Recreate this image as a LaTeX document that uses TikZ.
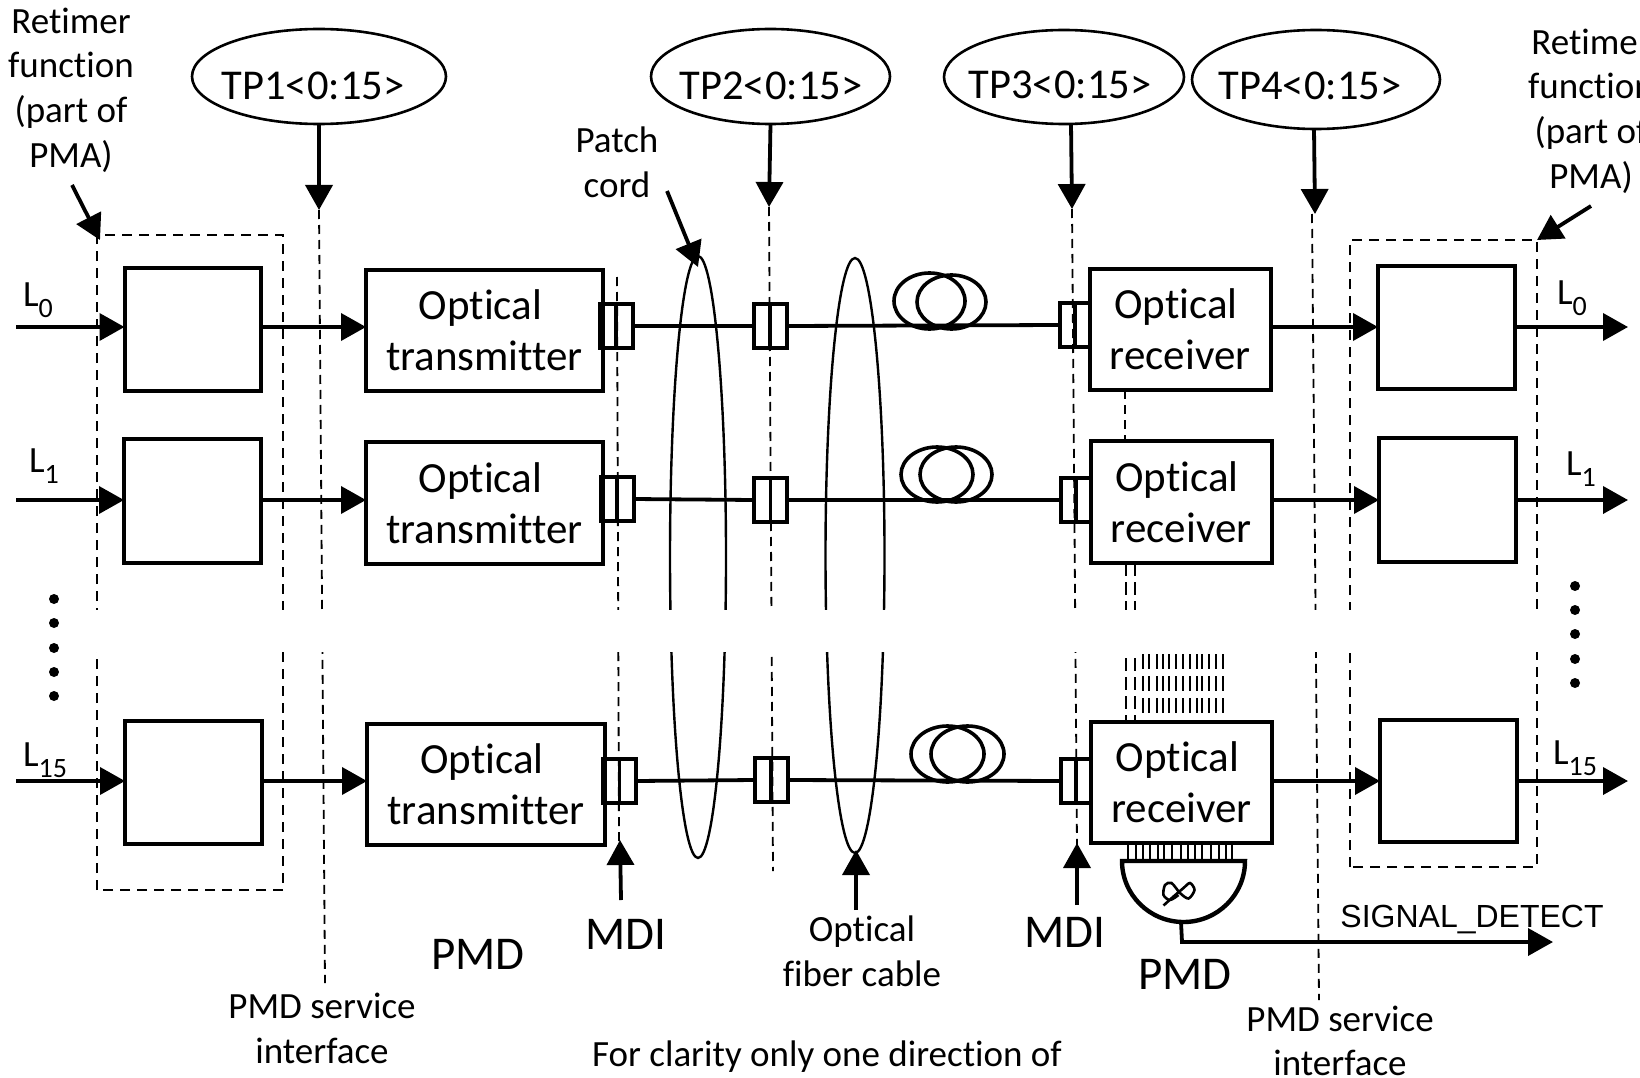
\documentclass[tikz,border=0pt]{standalone}
\usepackage{fontspec}
\setmainfont[Ligatures=CommonOff]{Carlito}
\newfontfamily\arialf{Liberation Sans}
\usetikzlibrary{arrows.meta,shapes.geometric}
\newcommand{\fs}[1]{\fontsize{#1}{#1}\selectfont}
\newcommand{\Lsub}[1]{L\raisebox{-.3em}{\fs{28}#1}}
\newcommand{\txt}{Optical\hspace*{8pt}\\[8pt]transmitter}
\newcommand{\rxt}{Optical\hspace*{8pt}\\[8pt]receiver}
\tikzset{
  blk/.style={draw,line width=4,inner sep=0,outer sep=0,align=center,font=\fs{43},text depth=0},
  conn/.style={draw,line width=4,inner sep=0,outer sep=0,minimum width=33,minimum height=44},
  link/.style={line width=3.8},
  arr/.style={line width=3.8,-{Triangle[length=25,width=27]}},
  vdash/.style={line width=1.8,dash pattern=on 9 off 6},
  boxdash/.style={line width=2.8,dash pattern=on 10 off 7},
  tp/.style={draw,ellipse,line width=2.6,inner sep=0,outer sep=0},
  lbl/.style={inner sep=0,font=\fs{37}},
  big/.style={inner sep=0,font=\fs{47}},
  tptext/.style={inner sep=0,font=\fs{42.5}},
  coil/.style={line width=3.6},
  cable/.style={line width=2.4},
  dotmark/.style={circle,fill=black,inner sep=0,minimum size=10},
}
\begin{document}
\begin{tikzpicture}[x=1pt,y=-1pt]
\useasboundingbox (0,0) rectangle (1640,1078);
\clip (0,0) rectangle (1640,1078);
% dashed
\draw[boxdash] (97,890) -- (97,235) -- (283,235) -- (283,890) -- cycle;
\draw[boxdash] (1350,867) -- (1350,240) -- (1537,240) -- (1537,867) -- cycle;
\coordinate (t1a) at (319,210); \coordinate (t1b) at (325,983);
\coordinate (m1a) at (617,277); \coordinate (m1b) at (619,842);
\coordinate (t2a) at (769,207); \coordinate (t2b) at (773,871);
\coordinate (t3a) at (1072,209); \coordinate (t3b) at (1077,847);
\coordinate (t4a) at (1312,214); \coordinate (t4b) at (1319,1000);
\foreach \a/\b in {t1a/t1b,m1a/m1b,t2a/t2b,t3a/t3b,t4a/t4b} \draw[vdash] (\a) -- (\b);
\draw[vdash] (1125,390) -- (1125,441);
\draw[vdash,dash pattern=on 13 off 6] (1126,563) -- (1126,722);
\draw[vdash,dash pattern=on 13 off 6] (1135,563) -- (1135,722);
\foreach \x in {1143,1149,1157,1163,1169,1176,1183,1190,1197,1202,1209,1216,1223}
  \draw[vdash,dash pattern=on 15 off 7] (\x,654) -- (\x,722);
% cable loops
\node[cable,draw,ellipse,minimum width=56,minimum height=602,inner sep=0] (pc) at (698,557) {};
\node[cable,draw,ellipse,minimum width=59,minimum height=595,inner sep=0] (fc) at (855,555.5) {};
% gap
\fill[white] (0,610) rectangle (1640,652);
% dots
\foreach \y in {599,623,648,672,696} \node[dotmark] at (54,\y) {};
\foreach \y in {586,610,634,659,683} \node[dotmark] at (1575,\y) {};
% row 0
\node[blk,minimum width=136,minimum height=123] (ra0) at (192.5,329) {};
\node[blk,minimum width=237,minimum height=121] (tx0) at (484.5,330.5) {\txt};
\node[conn] (ca0) at (616,326) {};
\node[conn] (cb0) at (770,326) {};
\node[conn,minimum width=30] (cc0) at (1075,325) {};
\node[blk,minimum width=181,minimum height=121] (rx0) at (1180,329.5) {\rxt};
\node[blk,minimum width=137,minimum height=123] (rb0) at (1446.5,327.5) {};
% row 1
\node[blk,minimum width=137,minimum height=124] (ra1) at (192.5,501) {};
\node[blk,minimum width=237,minimum height=122] (tx1) at (484.5,503) {\txt};
\node[conn] (ca1) at (617,499) {};
\node[conn] (cb1) at (770.5,500) {};
\node[conn,minimum width=30] (cc1) at (1076,500) {};
\node[blk,minimum width=181,minimum height=122] (rx1) at (1181,502) {\rxt};
\node[blk,minimum width=137,minimum height=124] (rb1) at (1447.5,500) {};
% row 15
\node[blk,minimum width=137,minimum height=123] (ra2) at (193.5,782.5) {};
\node[blk,minimum width=238,minimum height=121] (tx2) at (486,784.5) {\txt};
\node[conn] (ca2) at (619.5,781) {};
\node[conn] (cb2) at (771,780) {};
\node[conn,minimum width=30] (cc2) at (1076,781) {};
\node[blk,minimum width=181,minimum height=121] (rx2) at (1181.5,782.5) {\rxt};
\node[blk,minimum width=137,minimum height=122] (rb2) at (1448.5,781) {};
% ends
\coordinate (in0) at (16,327); \coordinate (in1) at (16,500); \coordinate (in2) at (16,781);
\coordinate (out0) at (1628,327); \coordinate (out1) at (1628,500); \coordinate (out2) at (1628,781);
\foreach \r in {0,1,2}{
  \draw[arr] (in\r) -- (ra\r.west |- in\r);
  \draw[arr] (ra\r.east |- in\r) -- (tx\r.west |- in\r);
  \draw[link] (ca\r.east) -- (cb\r.west);
  \draw[link] (cb\r.east) -- (cc\r.west);
  \draw[link] (ca\r.north) -- (ca\r.south);
  \draw[link] (cb\r.north) -- (cb\r.south);
  \draw[link] (cc\r.north) -- (cc\r.south);
  \draw[arr] (rx\r.east |- out\r) -- (rb\r.west |- out\r);
  \draw[arr] (rb\r.east |- out\r) -- (out\r);
}
% coils
\node[coil,draw,ellipse,minimum width=71,minimum height=56,inner sep=0] (c01) at (929.5,301) {};
\node[coil,draw,ellipse,minimum width=69,minimum height=54,inner sep=0] (c02) at (951.5,302) {};
\node[coil,draw,ellipse,minimum width=72,minimum height=55,inner sep=0] (c11) at (937,474.5) {};
\node[coil,draw,ellipse,minimum width=72,minimum height=55,inner sep=0] (c12) at (956,474.5) {};
\node[coil,draw,ellipse,minimum width=73,minimum height=56,inner sep=0] (c21) at (947.5,754) {};
\node[coil,draw,ellipse,minimum width=73,minimum height=56,inner sep=0] (c22) at (967.5,754) {};
% gate
\foreach \x in {1128,1136,1143,1150,1158,1164,1172,1181,1188,1195,1202,1211,1219,1226,1232}
  \draw[line width=1.4] (\x,844) -- (\x,860);
\coordinate (ga) at (1122,861); \coordinate (gb) at (1245,861);
\draw[line width=4.4,fill=white] (ga) -- (gb) arc[start angle=0,end angle=180,x radius=61.5,y radius=61] -- cycle;
\draw[line width=2.6] plot[smooth] coordinates {(1163.5,905.5) (1173.5,896.5) (1183.5,888) (1190,883) (1194.5,890) (1188.5,898.5) (1180,893) (1171.5,883) (1165,885) (1163.5,895) (1170,900) (1178.5,895)};
\coordinate (go) at (1181,922); \coordinate (gc) at (1182,942); \coordinate (sig) at (1553,942);
\draw[arr] (go) -- (gc) -- (sig);
\node[inner sep=0,font=\arialf\fs{32}] (sigl) at (1472,919) {SIGNAL\_DETECT};
% TP ellipses
\node[tp,minimum width=254,minimum height=95] (tp1) at (319,76.5) {};
\node[tp,minimum width=239,minimum height=95] (tp2) at (770.5,76.5) {};
\node[tp,minimum width=240,minimum height=94] (tp3) at (1064,77) {};
\node[tp,minimum width=248,minimum height=99] (tp4) at (1316,79.5) {};
\node[tptext] (tt1) at (313,86) {TP1<0:15>};
\node[tptext] (tt2) at (771,86) {TP2<0:15>};
\node[tptext] (tt3) at (1060,85) {TP3<0:15>};
\node[tptext] (tt4) at (1310,86) {TP4<0:15>};
\draw[arr] (tp1.south) -- (t1a);
\draw[arr] (tp2.south) -- (t2a);
\draw[arr] (1071,124) -- (t3a);
\draw[arr] (1314,129) -- (1315,214);
% retimer labels
\node[lbl,align=center] (rtl) at (71,90) {Retimer\\[7.6pt]function\\[7.6pt](part of\\[7.6pt]PMA)};
\node[lbl,align=center] (rtr) at (1591,111) {Retimer\\[7.6pt]function\\[7.6pt](part of\\[7.6pt]PMA)};
\coordinate (rta) at (72,185); \coordinate (rtb) at (100,240);
\coordinate (rra) at (1591,206); \coordinate (rrb) at (1537,240);
\draw[arr] (rta) -- (rtb);
\draw[arr] (rra) -- (rrb);
% patch / cable
\node[lbl,align=center] (pcl) at (617,162.5) {Patch\\[7.6pt]cord};
\coordinate (pca) at (667,191); \coordinate (pcb) at (698,267);
\draw[arr] (pca) -- (pcb);
\node[lbl,align=center] (fcl) at (862,951.5) {Optical\\[7.6pt]fiber cable};
\draw[arr] (856,910) -- (856,850);
% MDI
\node[big] (mdi1) at (625.5,934) {MDI};
\node[big] (mdi2) at (1065,932) {MDI};
\draw[arr] (621,900) -- (620,840);
\draw[arr] (1077,905) -- (1077,843);
% PMD
\node[big] (pmd1) at (478,954) {PMD};
\node[big] (pmd2) at (1185,974) {PMD};
\node[lbl,align=center] (s1) at (322,1028.5) {PMD service\\[7.6pt]interface};
\node[lbl,align=center] (s2) at (1340,1041) {PMD service\\[7.6pt]interface};
\node[lbl] (cl) at (827,1057) {For clarity only one direction of};
% L labels
\node[lbl] (l0) at (38,300) {\Lsub{0}};
\node[lbl] (l1) at (44,466) {\Lsub{1}};
\node[lbl] (l2) at (45,760) {\Lsub{15}};
\node[lbl] (r0) at (1572,298) {\Lsub{0}};
\node[lbl] (r1) at (1581,469) {\Lsub{1}};
\node[lbl] (r2) at (1575,758) {\Lsub{15}};
\end{tikzpicture}
\end{document}
